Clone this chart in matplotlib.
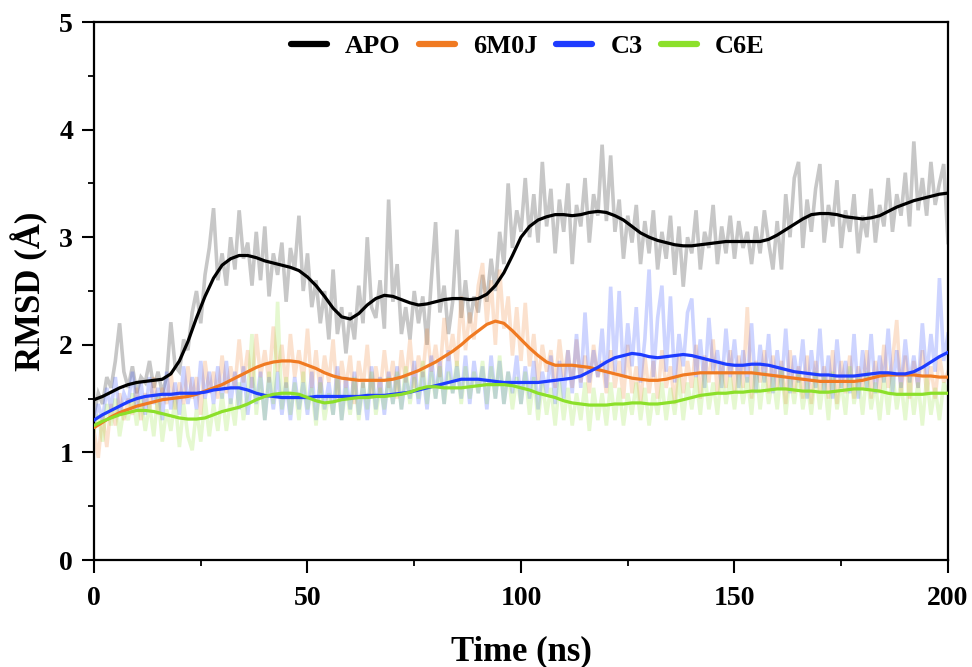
import numpy as np
import matplotlib
matplotlib.use("Agg")
import matplotlib.pyplot as plt

# ---------------- data ----------------
t_raw = list(range(0, 201))  # ns, 1 ns spacing

apo_raw = [
    1.35, 1.55, 1.45, 1.70, 1.60, 1.85, 2.20, 1.75, 1.60, 1.80,
    1.55, 1.70, 1.65, 1.85, 1.60, 1.75, 1.55, 1.70, 2.21, 1.80,
    1.75, 2.05, 1.95, 2.30, 2.50, 2.20, 2.65, 2.90, 3.27, 2.60,
    2.85, 2.55, 3.00, 2.70, 3.25, 2.80, 2.95, 2.55, 3.05, 2.60,
    3.10, 2.45, 2.85, 2.65, 2.95, 2.40, 2.90, 2.70, 3.20, 2.50,
    2.85, 2.35, 2.60, 2.20, 2.50, 2.05, 2.70, 2.10, 2.35, 1.92,
    2.30, 2.05, 2.55, 2.20, 3.00, 2.35, 2.25, 2.60, 2.15, 3.35,
    2.40, 2.75, 2.10, 2.35, 2.05, 2.50, 2.20, 2.45, 2.00, 2.60,
    3.14, 2.30, 2.55, 2.10, 2.40, 3.07, 2.25, 2.60, 2.20, 2.45,
    2.30, 2.65, 2.40, 2.80, 2.50, 3.05, 2.75, 3.50, 2.90, 3.25,
    3.05, 3.55, 3.00, 3.40, 2.95, 3.70, 3.10, 3.45, 2.85, 3.35,
    3.05, 3.50, 2.75, 3.30, 3.10, 3.55, 2.95, 3.40, 3.20, 3.86,
    3.15, 3.76, 3.05, 3.35, 2.80, 3.20, 2.95, 3.30, 2.75, 3.15,
    2.85, 3.25, 2.70, 3.05, 2.80, 3.20, 2.65, 3.10, 2.54, 3.00,
    2.85, 3.25, 2.70, 3.05, 2.90, 3.30, 2.75, 3.10, 2.85, 3.20,
    2.80, 3.15, 2.90, 3.05, 2.75, 3.10, 2.85, 3.25, 2.95, 2.70,
    3.15, 2.70, 3.40, 3.00, 3.55, 3.70, 2.90, 3.35, 3.05, 3.45,
    3.68, 2.95, 3.30, 3.10, 3.53, 2.90, 3.25, 3.05, 3.40, 2.85,
    3.20, 3.00, 3.45, 2.95, 3.30, 3.10, 3.55, 3.05, 3.40, 3.20,
    3.60, 3.10, 3.89, 3.25, 3.55, 3.20, 3.70, 3.30, 3.50, 3.68,
    2.95,
]

m6m0j_raw = [
    1.20, 0.95, 1.35, 1.05, 1.45, 1.25, 1.55, 1.30, 1.50, 1.35,
    1.60, 1.30, 1.55, 1.40, 1.70, 1.35, 1.60, 1.45, 1.75, 1.40,
    1.65, 1.45, 1.80, 1.50, 1.70, 1.35, 1.85, 1.55, 1.75, 1.50,
    1.90, 1.55, 1.80, 1.60, 2.05, 1.65, 1.95, 1.60, 2.10, 1.70,
    1.95, 1.65, 2.17, 1.75, 2.00, 1.60, 2.10, 1.70, 1.95, 1.65,
    2.15, 1.60, 1.95, 1.55, 1.90, 1.65, 2.05, 1.50, 1.85, 1.60,
    1.90, 1.45, 1.85, 1.60, 2.00, 1.50, 1.80, 1.55, 1.95, 1.60,
    1.85, 1.50, 1.95, 1.65, 2.05, 1.60, 1.90, 1.70, 2.15, 1.75,
    2.00, 1.70, 2.25, 1.85, 2.10, 1.80, 2.45, 1.95, 2.30, 2.05,
    2.55, 2.76, 2.20, 2.60, 2.00, 2.70, 2.15, 2.45, 1.90, 2.35,
    1.85, 2.39, 1.80, 2.10, 1.65, 2.00, 1.75, 1.95, 1.60, 2.05,
    1.70, 1.95, 1.60, 2.05, 1.65, 1.90, 1.55, 2.00, 1.70, 1.85,
    1.55, 1.95, 1.60, 1.85, 1.50, 2.00, 1.55, 1.80, 1.45, 1.90,
    1.55, 1.85, 1.50, 1.95, 1.60, 1.80, 1.45, 1.90, 1.55, 1.85,
    1.60, 2.00, 1.50, 1.90, 1.65, 2.05, 1.55, 1.85, 1.60, 1.95,
    1.55, 1.90, 1.60, 2.35, 1.50, 1.85, 1.65, 1.95, 1.55, 1.90,
    1.60, 1.85, 1.45, 1.95, 1.55, 1.80, 1.50, 1.90, 1.45, 1.85,
    1.55, 1.80, 1.50, 1.95, 1.45, 1.85, 1.55, 1.90, 1.50, 1.80,
    1.60, 1.95, 1.50, 1.85, 1.55, 2.00, 1.60, 1.85, 2.23, 1.55,
    1.90, 1.50, 1.85, 1.60, 1.95, 1.55, 1.80, 1.50, 1.90, 1.65,
    1.75,
]

c3_raw = [
    1.25, 1.45, 1.30, 1.60, 1.40, 1.70, 1.35, 1.55, 1.45, 1.75,
    1.40, 1.65, 1.35, 1.70, 1.45, 1.60, 1.30, 1.75, 1.40, 1.65,
    1.35, 1.80, 1.45, 1.70, 1.40, 1.85, 1.50, 1.75, 1.45, 1.80,
    1.50, 1.85, 1.45, 1.75, 1.40, 1.80, 1.35, 1.70, 1.45, 1.75,
    1.30, 1.70, 1.40, 1.75, 1.35, 1.65, 1.30, 1.70, 1.40, 1.65,
    1.35, 1.75, 1.30, 1.70, 1.40, 1.65, 1.35, 1.80, 1.30, 1.70,
    1.40, 1.75, 1.35, 1.65, 1.30, 1.80, 1.40, 1.70, 1.35, 1.75,
    1.45, 1.80, 1.40, 1.70, 1.50, 1.85, 1.45, 1.75, 1.40, 1.90,
    1.50, 1.85, 1.45, 1.95, 1.55, 1.80, 1.50, 1.90, 1.45, 1.85,
    1.55, 1.80, 1.40, 1.90, 1.50, 1.85, 1.45, 1.75, 1.55, 1.90,
    1.45, 1.80, 1.50, 1.85, 1.40, 1.75, 1.55, 1.90, 1.45, 1.85,
    1.50, 1.95, 1.55, 2.10, 1.60, 2.30, 1.65, 1.95, 1.70, 2.15,
    1.60, 2.54, 1.75, 2.50, 1.70, 2.20, 1.80, 2.35, 1.65, 2.05,
    2.70, 1.70, 2.25, 2.55, 1.75, 2.45, 1.65, 2.10, 1.80, 2.30,
    2.43, 1.70, 2.05, 1.60, 2.25, 1.75, 1.95, 1.60, 2.15, 1.70,
    2.05, 1.60, 1.95, 1.65, 2.20, 1.55, 2.00, 1.65, 2.10, 1.55,
    1.95, 1.60, 2.15, 1.55, 1.90, 1.65, 2.05, 1.50, 1.95, 1.60,
    2.15, 1.55, 1.90, 1.50, 2.05, 1.60, 1.85, 1.55, 2.10, 1.50,
    1.95, 1.60, 2.10, 1.55, 1.90, 1.65, 2.15, 1.55, 1.95, 1.60,
    2.05, 1.65, 1.90, 1.60, 2.20, 1.70, 2.10, 1.75, 2.62, 1.85,
    2.10,
]

c6e_raw = [
    1.20, 1.35, 1.10, 1.45, 1.25, 1.50, 1.15, 1.40, 1.30, 1.55,
    1.25, 1.50, 1.20, 1.45, 1.15, 1.55, 1.10, 1.40, 1.20, 1.50,
    1.05, 1.45, 1.15, 1.02, 1.40, 1.10, 1.50, 1.15, 1.45, 1.20,
    1.55, 1.20, 1.50, 1.25, 1.65, 1.30, 1.55, 2.10, 1.35, 1.70,
    1.30, 1.75, 1.45, 2.40, 1.40, 1.70, 1.35, 1.65, 1.30, 1.75,
    1.40, 1.60, 1.25, 1.65, 1.30, 1.55, 1.35, 1.70, 1.30, 1.60,
    1.35, 1.70, 1.30, 1.65, 1.40, 1.75, 1.35, 1.60, 1.40, 1.70,
    1.45, 1.75, 1.40, 1.80, 1.45, 1.70, 1.50, 1.85, 1.45, 1.75,
    1.50, 1.80, 1.45, 1.75, 1.55, 1.85, 1.45, 1.80, 1.50, 1.75,
    1.55, 1.85, 1.45, 1.80, 1.50, 1.90, 1.45, 1.75, 1.40, 1.70,
    1.45, 1.75, 1.35, 1.70, 1.30, 1.65, 1.35, 1.60, 1.25, 1.65,
    1.30, 1.60, 1.25, 1.55, 1.30, 1.65, 1.20, 1.60, 1.30, 1.55,
    1.25, 1.65, 1.30, 1.60, 1.25, 1.55, 1.35, 1.65, 1.30, 1.60,
    1.25, 1.55, 1.35, 1.65, 1.30, 1.60, 1.35, 1.70, 1.30, 1.65,
    1.40, 1.70, 1.35, 1.75, 1.40, 1.65, 1.35, 1.75, 1.45, 1.70,
    1.40, 1.75, 1.45, 1.70, 1.35, 1.80, 1.40, 1.75, 1.45, 1.70,
    1.40, 1.80, 1.35, 1.70, 1.45, 1.75, 1.40, 1.65, 1.35, 1.75,
    1.40, 1.70, 1.30, 1.75, 1.40, 1.65, 1.35, 1.80, 1.45, 1.70,
    1.35, 1.75, 1.40, 1.65, 1.30, 1.70, 1.35, 1.75, 1.40, 1.65,
    1.30, 1.70, 1.35, 1.65, 1.25, 1.70, 1.35, 1.60, 1.30, 1.65,
    1.55,
]

t_smooth = list(range(0, 201, 2))

apo_smooth = [
    1.49, 1.52, 1.56, 1.60, 1.63, 1.65, 1.66, 1.67, 1.68, 1.73,
    1.85, 2.03, 2.25, 2.45, 2.62, 2.74, 2.80, 2.83, 2.83, 2.81,
    2.78, 2.76, 2.74, 2.72, 2.69, 2.63, 2.55, 2.45, 2.34, 2.26,
    2.24, 2.29, 2.37, 2.43, 2.46, 2.45, 2.42, 2.39, 2.37, 2.38,
    2.40, 2.42, 2.43, 2.43, 2.42, 2.43, 2.47, 2.55, 2.67, 2.83,
    3.00, 3.10, 3.16, 3.19, 3.21, 3.21, 3.20, 3.21, 3.23, 3.24,
    3.23, 3.20, 3.16, 3.10, 3.04, 3.00, 2.97, 2.95, 2.93, 2.92,
    2.92, 2.93, 2.94, 2.95, 2.96, 2.96, 2.96, 2.96, 2.96, 2.98,
    3.02, 3.07, 3.12, 3.17, 3.21, 3.22, 3.22, 3.21, 3.19, 3.18,
    3.17, 3.18, 3.20, 3.24, 3.28, 3.31, 3.34, 3.36, 3.38, 3.40,
    3.41,
]

m6m0j_smooth = [
    1.23, 1.28, 1.33, 1.37, 1.40, 1.43, 1.45, 1.47, 1.49, 1.50,
    1.51, 1.52, 1.54, 1.57, 1.60, 1.63, 1.67, 1.71, 1.75, 1.79,
    1.82, 1.84, 1.85, 1.85, 1.84, 1.81, 1.78, 1.74, 1.71, 1.69,
    1.68, 1.67, 1.67, 1.67, 1.67, 1.68, 1.70, 1.73, 1.76, 1.80,
    1.84, 1.89, 1.94, 2.00, 2.07, 2.13, 2.19, 2.22, 2.20, 2.13,
    2.05, 1.97, 1.90, 1.84, 1.81, 1.81, 1.81, 1.80, 1.79, 1.77,
    1.75, 1.73, 1.71, 1.69, 1.68, 1.67, 1.67, 1.68, 1.70, 1.72,
    1.73, 1.74, 1.74, 1.74, 1.74, 1.74, 1.74, 1.74, 1.73, 1.72,
    1.71, 1.70, 1.69, 1.68, 1.67, 1.66, 1.66, 1.66, 1.66, 1.66,
    1.67, 1.69, 1.71, 1.72, 1.72, 1.72, 1.72, 1.71, 1.71, 1.70,
    1.70,
]

c3_smooth = [
    1.30, 1.35, 1.39, 1.43, 1.47, 1.50, 1.52, 1.53, 1.54, 1.54,
    1.55, 1.55, 1.55, 1.56, 1.58, 1.59, 1.60, 1.60, 1.58, 1.55,
    1.53, 1.52, 1.51, 1.51, 1.51, 1.51, 1.52, 1.52, 1.52, 1.52,
    1.52, 1.52, 1.53, 1.53, 1.53, 1.54, 1.55, 1.56, 1.58, 1.60,
    1.62, 1.64, 1.66, 1.68, 1.68, 1.68, 1.67, 1.66, 1.65, 1.65,
    1.65, 1.65, 1.65, 1.66, 1.67, 1.68, 1.69, 1.71, 1.75, 1.79,
    1.84, 1.88, 1.90, 1.92, 1.91, 1.89, 1.88, 1.89, 1.90, 1.91,
    1.90, 1.88, 1.86, 1.84, 1.82, 1.81, 1.81, 1.82, 1.82, 1.81,
    1.79, 1.77, 1.75, 1.74, 1.73, 1.72, 1.72, 1.71, 1.71, 1.71,
    1.72, 1.73, 1.74, 1.74, 1.73, 1.73, 1.75, 1.79, 1.84, 1.89,
    1.93,
]

c6e_smooth = [
    1.25, 1.29, 1.32, 1.35, 1.37, 1.39, 1.39, 1.38, 1.36, 1.34,
    1.32, 1.31, 1.31, 1.32, 1.35, 1.38, 1.40, 1.42, 1.45, 1.49,
    1.52, 1.54, 1.55, 1.55, 1.54, 1.51, 1.48, 1.46, 1.47, 1.49,
    1.50, 1.51, 1.51, 1.52, 1.52, 1.53, 1.54, 1.56, 1.59, 1.61,
    1.61, 1.60, 1.60, 1.60, 1.61, 1.62, 1.63, 1.63, 1.63, 1.62,
    1.60, 1.58, 1.55, 1.53, 1.51, 1.48, 1.46, 1.45, 1.44, 1.44,
    1.44, 1.45, 1.45, 1.46, 1.46, 1.45, 1.45, 1.46, 1.47, 1.49,
    1.51, 1.53, 1.54, 1.55, 1.55, 1.56, 1.56, 1.57, 1.57, 1.58,
    1.59, 1.59, 1.58, 1.57, 1.57, 1.56, 1.56, 1.57, 1.58, 1.59,
    1.59, 1.58, 1.57, 1.55, 1.54, 1.54, 1.54, 1.54, 1.55, 1.55,
    1.55,
]

labels = ["APO", "6M0J", "C3", "C6E"]
colors = ["#000000", "#F07A22", "#1E3CFF", "#8CE02A"]

x_ticks = [0, 50, 100, 150, 200]
y_ticks = [0, 1, 2, 3, 4, 5]

# ---------------- plot ----------------
plt.rcParams['font.family'] = ['Liberation Serif', 'DejaVu Serif']
plt.rcParams['font.weight'] = 'bold'

fig = plt.figure(figsize=(9.72, 6.67), dpi=100)
ax = fig.add_axes([0.0967, 0.1604, 0.8786, 0.8066])

raws = [apo_raw, m6m0j_raw, c3_raw, c6e_raw]
smooths = [apo_smooth, m6m0j_smooth, c3_smooth, c6e_smooth]

for r, c in zip(raws, colors):
    ax.plot(t_raw, r, color=c, alpha=0.22, lw=2.6, zorder=1,
            solid_joinstyle='miter')
for s, c, lab in zip(smooths, colors, labels):
    ax.plot(t_smooth, s, color=c, lw=2.3, label=lab, zorder=3,
            solid_capstyle='round')

ax.set_xlim(0, 200)
ax.set_ylim(0, 5)
ax.set_xticks(x_ticks)
ax.set_yticks(y_ticks)
ax.set_xticks([25, 75, 125, 175], minor=True)
ax.set_yticks([0.5, 1.5, 2.5, 3.5, 4.5], minor=True)
ax.tick_params(axis='both', which='major', direction='out', length=9, width=1.5,
               labelsize=20)
ax.tick_params(axis='x', which='major', pad=10)
ax.tick_params(axis='y', which='major', pad=6)
ax.tick_params(axis='both', which='minor', direction='out', length=4.5, width=1.3)
ax.tick_params(top=False, right=False)
for lab in ax.get_xticklabels() + ax.get_yticklabels():
    lab.set_fontweight('bold')
for sp in ax.spines.values():
    sp.set_linewidth(1.6)

ax.set_xlabel("Time (ns)", fontsize=25, fontweight='bold', labelpad=17)
ax.set_ylabel("RMSD (Å)", fontsize=25, fontweight='bold', labelpad=8)

leg = ax.legend(loc='upper center', ncol=4, frameon=False,
                prop={'weight': 'bold', 'size': 19}, handlelength=1.35,
                handletextpad=0.7, columnspacing=0.7,
                bbox_to_anchor=(0.508, 1.02))
for h in leg.get_lines():
    h.set_linewidth(4.5)
    h.set_solid_capstyle('round')

fig.savefig("out.png", dpi=100)
